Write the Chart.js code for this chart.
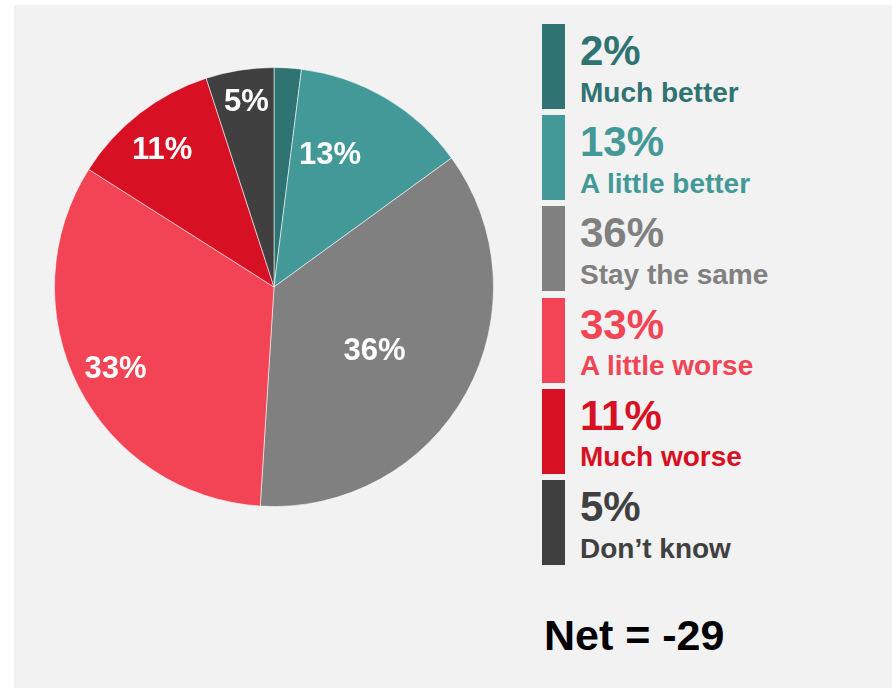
<!DOCTYPE html>
<html>
<head>
<meta charset="utf-8">
<script src="https://cdn.jsdelivr.net/npm/chart.js@4"></script>
<style>
  body { margin: 0; background: #ffffff; font-family: "Liberation Sans", Arial, sans-serif; }
  #panel { position: absolute; left: 14px; top: 5px; width: 878px; height: 683px; background: #f2f2f2; }
  #pieChart { position: absolute; left: 40px; top: 62px; }
  .swatch { position: absolute; left: 528px; width: 23px; height: 85px; }
  .pct { position: absolute; left: 566px; font-weight: bold; font-size: 42px; line-height: 42px; white-space: nowrap; }
  .lbl { position: absolute; left: 566px; font-weight: bold; font-size: 28px; line-height: 28px; white-space: nowrap; }
  #net { position: absolute; left: 530px; top: 609px; font-weight: bold; font-size: 43px; line-height: 43px; color: #000; }
</style>
</head>
<body>
<div id="panel">
  <canvas id="pieChart" width="440" height="440"></canvas>
  <div id="legend"></div>
  <div id="net"></div>
</div>
<script>
  // datos
  const categories = ["Much better", "A little better", "Stay the same", "A little worse", "Much worse", "Don\u2019t know"];
  const values = [2, 13, 36, 33, 11, 5];
  const netValue = -29;

  // colores
  const colors = ["#2f7372", "#429998", "#808080", "#f24455", "#d71024", "#404040"];

  // posicion de etiquetas dentro del pastel (fraccion del radio, desplazamiento en grados)
  const labelRadius = [null, 0.66, 0.54, 0.81, 0.81, 0.86];
  const labelShift = [0, -7.8, 3.1, 0, -1.2, 0.6];

  const sliceLabels = {
    id: "sliceLabels",
    afterDatasetsDraw(chart) {
      const ctx = chart.ctx;
      const meta = chart.getDatasetMeta(0);
      ctx.save();
      ctx.font = 'bold 31px "Liberation Sans", Arial, sans-serif';
      ctx.fillStyle = "#ffffff";
      ctx.textAlign = "center";
      ctx.textBaseline = "middle";
      meta.data.forEach((arc, i) => {
        if (labelRadius[i] === null) return;
        const p = arc.getProps(["x", "y", "startAngle", "endAngle", "outerRadius"], true);
        const a = (p.startAngle + p.endAngle) / 2 + labelShift[i] * Math.PI / 180;
        const r = p.outerRadius * labelRadius[i];
        ctx.fillText(values[i] + "%", p.x + Math.cos(a) * r, p.y + Math.sin(a) * r + 2);
      });
      ctx.restore();
    },
  };

  new Chart(document.getElementById("pieChart"), {
    type: "pie",
    data: {
      labels: categories,
      datasets: [
        {
          data: values,
          backgroundColor: colors,
          borderColor: "rgba(255, 255, 255, 0.55)",
          borderWidth: 1,
        },
      ],
    },
    options: {
      responsive: false,
      animation: false,
      devicePixelRatio: 1,
      layout: { padding: 0 },
      plugins: {
        legend: { display: false },
        tooltip: { enabled: false },
      },
    },
    plugins: [sliceLabels],
  });

  // leyenda a la derecha
  const legend = document.getElementById("legend");
  categories.forEach((name, i) => {
    const top = 19 + i * 91.2;
    const sw = document.createElement("div");
    sw.className = "swatch";
    sw.style.top = top + "px";
    sw.style.background = colors[i];
    legend.appendChild(sw);

    const pct = document.createElement("div");
    pct.className = "pct";
    pct.style.top = (top + 6) + "px";
    pct.style.color = colors[i];
    pct.textContent = values[i] + "%";
    legend.appendChild(pct);

    const lbl = document.createElement("div");
    lbl.className = "lbl";
    lbl.style.top = (top + 54.5) + "px";
    lbl.style.color = colors[i];
    lbl.textContent = name;
    legend.appendChild(lbl);
  });

  document.getElementById("net").textContent = "Net = " + netValue;
</script>
</body>
</html>
